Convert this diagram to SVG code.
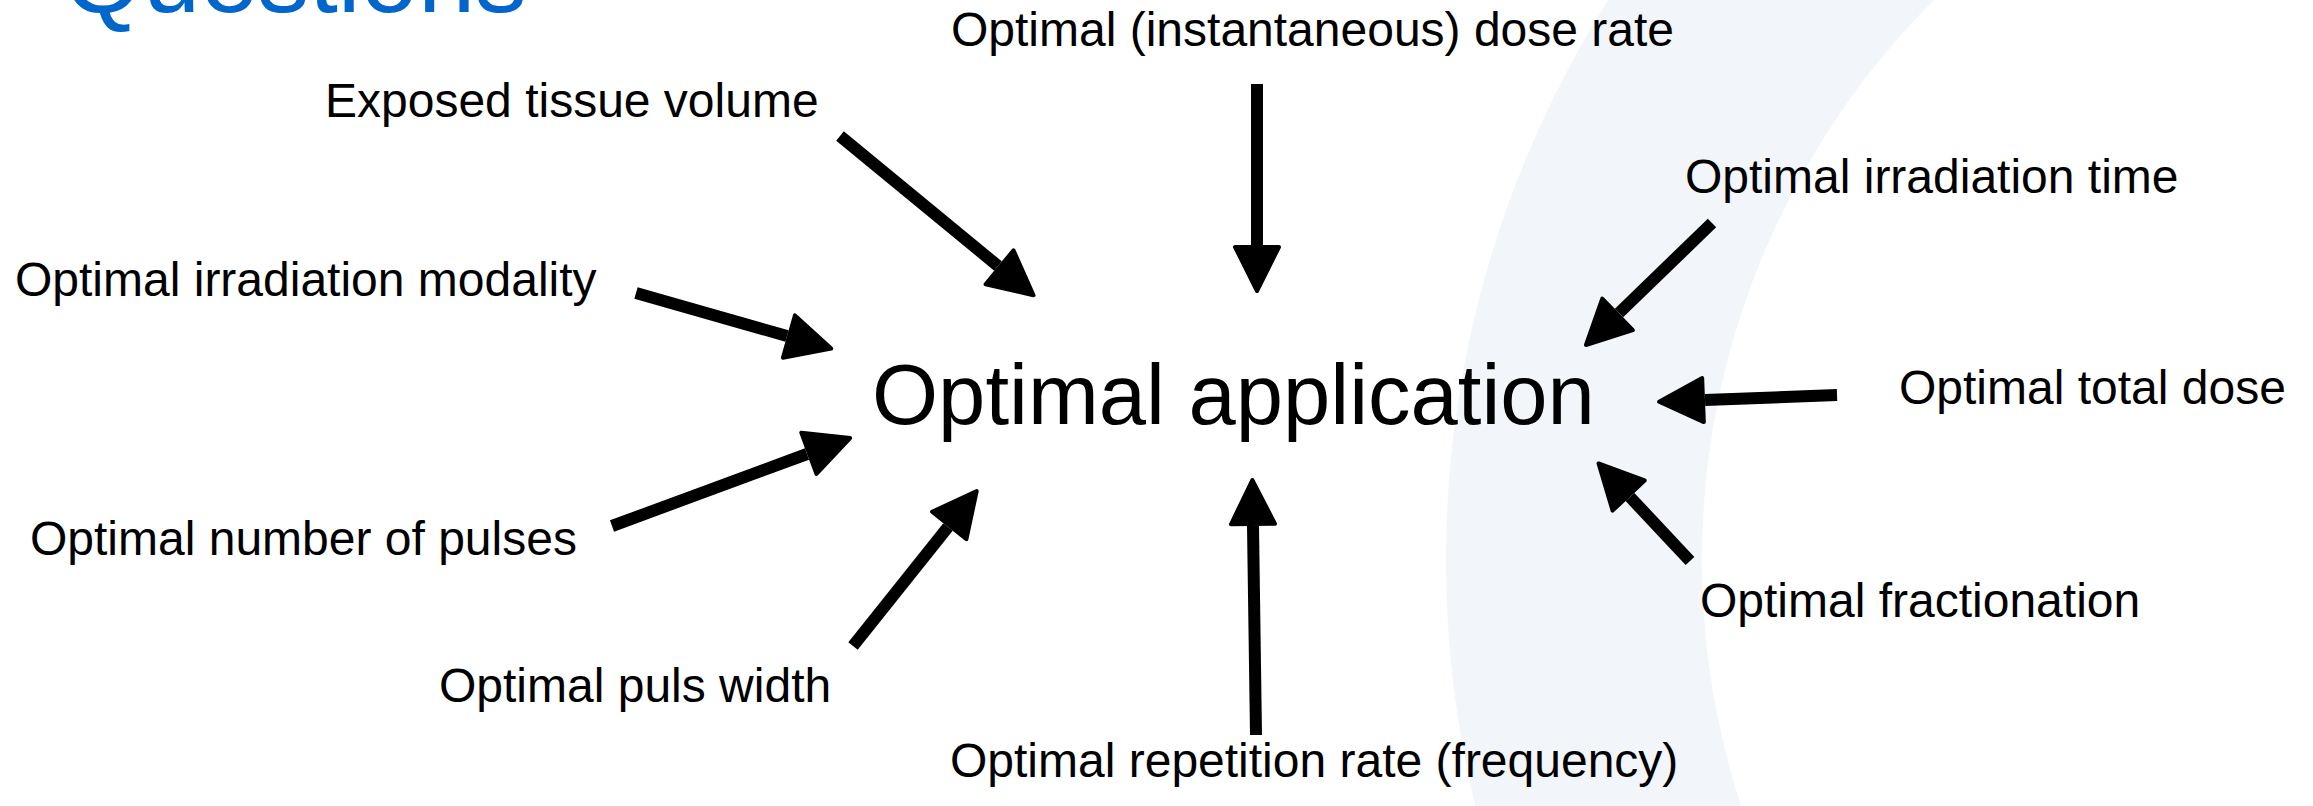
<svg xmlns="http://www.w3.org/2000/svg" width="2313" height="806" viewBox="0 0 2313 806">
  <style>
    .lbl { font-family: "Liberation Sans", Arial, sans-serif; font-size: 48px; fill: #000; }
    .main { font-family: "Liberation Sans", Arial, sans-serif; font-size: 85px; fill: #000; }
    .title { font-family: "Liberation Sans", Arial, sans-serif; font-size: 103px; fill: #0066CC; }
    .arrow { stroke: #000; stroke-width: 12; fill: none; marker-end: url(#head); }
  </style>
  <defs>
    <marker id="head" markerUnits="userSpaceOnUse" markerWidth="60" markerHeight="60" viewBox="-4 -30 60 60" refX="0" refY="0" orient="auto" overflow="visible">
      <path d="M2,-22 L46,0 L2,22 Z" fill="#000" stroke="#000" stroke-width="4" stroke-linejoin="round"/>
    </marker>
  </defs>

  <rect width="2313" height="806" fill="#fff"/>

  <!-- pale ring segment in the background -->
  <path fill="#F2F5FA" fill-rule="evenodd"
        d="M2494,-488 A1048,1048 0 1 0 2494,1608 A1048,1048 0 1 0 2494,-488 Z
           M2494,-232 A792,792 0 1 0 2494,1352 A792,792 0 1 0 2494,-232 Z"/>

  <text class="title" x="63" y="12">Questions</text>

  <g id="center"><text class="main" x="872" y="424">Optimal application</text></g>
  <g id="dose-rate"><text class="lbl" x="951" y="46">Optimal (instantaneous) dose rate</text></g>
  <g id="tissue-volume"><text class="lbl" x="325" y="117">Exposed tissue volume</text></g>
  <g id="irradiation-time"><text class="lbl" x="1685" y="193">Optimal irradiation time</text></g>
  <g id="modality"><text class="lbl" x="15" y="296">Optimal irradiation modality</text></g>
  <g id="total-dose"><text class="lbl" x="1899" y="404">Optimal total dose</text></g>
  <g id="pulses"><text class="lbl" x="30" y="555">Optimal number of pulses</text></g>
  <g id="fractionation"><text class="lbl" x="1700" y="617">Optimal fractionation</text></g>
  <g id="puls-width"><text class="lbl" x="439" y="702">Optimal puls width</text></g>
  <g id="repetition"><text class="lbl" x="950" y="777">Optimal repetition rate (frequency)</text></g>

  <g id="connectors">
    <line class="arrow" x1="840" y1="136" x2="998" y2="266"/>
    <line class="arrow" x1="1257" y1="84" x2="1257" y2="245"/>
    <line class="arrow" x1="1712" y1="223" x2="1619" y2="313"/>
    <line class="arrow" x1="636" y1="293" x2="787" y2="336"/>
    <line class="arrow" x1="1837" y1="395" x2="1705" y2="400"/>
    <line class="arrow" x1="612" y1="526" x2="807" y2="454"/>
    <line class="arrow" x1="853" y1="646" x2="948" y2="527"/>
    <line class="arrow" x1="1256" y1="735" x2="1253" y2="526"/>
    <line class="arrow" x1="1690" y1="561" x2="1630" y2="497"/>
  </g>
</svg>
